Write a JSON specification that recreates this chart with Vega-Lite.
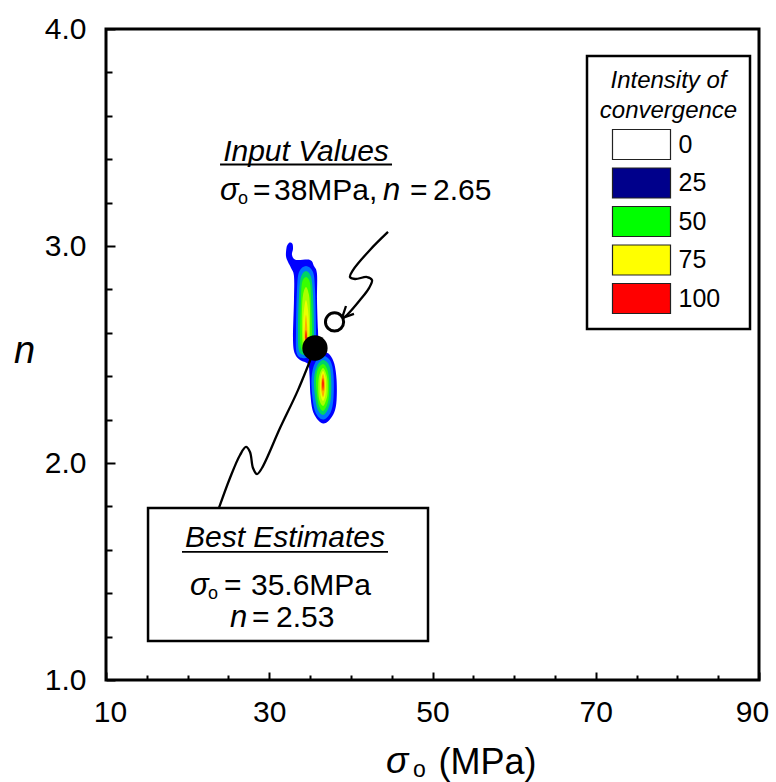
{
  "$schema": "https://vega.github.io/schema/vega-lite/v6.json",
  "width": 653,
  "height": 651,
  "autosize": {"type": "none"},
  "padding": {"left": 106, "top": 29, "right": 17, "bottom": 102},
  "background": "white",
  "config": {
    "view": {"stroke": "black", "strokeWidth": 3},
    "font": "Liberation Sans",
    "text": {"font": "Liberation Sans", "color": "black"}
  },
  "datasets": {
    "contour": [
      {"g":"o","lv":30,"i":1,"x":32.30,"y":3.009},{"g":"o","lv":30,"i":2,"x":32.54,"y":3.016},{"g":"o","lv":30,"i":3,"x":32.85,"y":3.009},{"g":"o","lv":30,"i":4,"x":32.91,"y":2.986},{"g":"o","lv":30,"i":5,"x":32.79,"y":2.959},{"g":"o","lv":30,"i":6,"x":33.28,"y":2.936},{"g":"o","lv":30,"i":7,"x":34.99,"y":2.936},{"g":"o","lv":30,"i":8,"x":35.48,"y":2.908},{"g":"o","lv":30,"i":9,"x":35.85,"y":2.871},{"g":"o","lv":30,"i":10,"x":35.85,"y":2.751},{"g":"o","lv":30,"i":11,"x":35.97,"y":2.613},{"g":"o","lv":30,"i":12,"x":36.10,"y":2.544},{"g":"o","lv":30,"i":13,"x":36.71,"y":2.516},{"g":"o","lv":30,"i":14,"x":37.44,"y":2.498},{"g":"o","lv":30,"i":15,"x":37.98,"y":2.456},{"g":"o","lv":30,"i":16,"x":38.25,"y":2.383},{"g":"o","lv":30,"i":17,"x":38.25,"y":2.290},{"g":"o","lv":30,"i":18,"x":37.98,"y":2.235},{"g":"o","lv":30,"i":19,"x":37.32,"y":2.196},{"g":"o","lv":30,"i":20,"x":36.59,"y":2.182},{"g":"o","lv":30,"i":21,"x":35.85,"y":2.203},{"g":"o","lv":30,"i":22,"x":35.30,"y":2.244},{"g":"o","lv":30,"i":23,"x":35.05,"y":2.313},{"g":"o","lv":30,"i":24,"x":34.93,"y":2.406},{"g":"o","lv":30,"i":25,"x":34.75,"y":2.456},{"g":"o","lv":30,"i":26,"x":33.77,"y":2.475},{"g":"o","lv":30,"i":27,"x":33.16,"y":2.502},{"g":"o","lv":30,"i":28,"x":32.91,"y":2.567},{"g":"o","lv":30,"i":29,"x":33.03,"y":2.751},{"g":"o","lv":30,"i":30,"x":33.03,"y":2.862},{"g":"o","lv":30,"i":31,"x":32.67,"y":2.899},{"g":"o","lv":30,"i":32,"x":32.30,"y":2.926},{"g":"o","lv":30,"i":33,"x":32.05,"y":2.954},{"g":"o","lv":30,"i":34,"x":32.11,"y":2.991},
      {"g":"u38","lv":38,"i":1,"x":34.50,"y":2.908},{"g":"u38","lv":38,"i":2,"x":35.36,"y":2.880},{"g":"u38","lv":38,"i":3,"x":35.61,"y":2.797},{"g":"u38","lv":38,"i":4,"x":35.73,"y":2.613},{"g":"u38","lv":38,"i":5,"x":35.61,"y":2.512},{"g":"u38","lv":38,"i":6,"x":34.50,"y":2.484},{"g":"u38","lv":38,"i":7,"x":33.40,"y":2.502},{"g":"u38","lv":38,"i":8,"x":33.28,"y":2.613},{"g":"u38","lv":38,"i":9,"x":33.40,"y":2.797},{"g":"u38","lv":38,"i":10,"x":33.65,"y":2.880},
      {"g":"u46","lv":46,"i":1,"x":34.50,"y":2.885},{"g":"u46","lv":46,"i":2,"x":35.12,"y":2.857},{"g":"u46","lv":46,"i":3,"x":35.36,"y":2.774},{"g":"u46","lv":46,"i":4,"x":35.48,"y":2.613},{"g":"u46","lv":46,"i":5,"x":35.36,"y":2.521},{"g":"u46","lv":46,"i":6,"x":34.50,"y":2.498},{"g":"u46","lv":46,"i":7,"x":33.65,"y":2.516},{"g":"u46","lv":46,"i":8,"x":33.52,"y":2.613},{"g":"u46","lv":46,"i":9,"x":33.65,"y":2.774},{"g":"u46","lv":46,"i":10,"x":33.89,"y":2.857},
      {"g":"u54","lv":54,"i":1,"x":34.50,"y":2.857},{"g":"u54","lv":54,"i":2,"x":34.99,"y":2.830},{"g":"u54","lv":54,"i":3,"x":35.12,"y":2.751},{"g":"u54","lv":54,"i":4,"x":35.24,"y":2.613},{"g":"u54","lv":54,"i":5,"x":35.12,"y":2.535},{"g":"u54","lv":54,"i":6,"x":34.50,"y":2.512},{"g":"u54","lv":54,"i":7,"x":33.89,"y":2.530},{"g":"u54","lv":54,"i":8,"x":33.77,"y":2.613},{"g":"u54","lv":54,"i":9,"x":33.89,"y":2.751},{"g":"u54","lv":54,"i":10,"x":34.01,"y":2.830},
      {"g":"u62","lv":62,"i":1,"x":34.50,"y":2.811},{"g":"u62","lv":62,"i":2,"x":34.87,"y":2.774},{"g":"u62","lv":62,"i":3,"x":34.99,"y":2.705},{"g":"u62","lv":62,"i":4,"x":34.99,"y":2.604},{"g":"u62","lv":62,"i":5,"x":34.87,"y":2.544},{"g":"u62","lv":62,"i":6,"x":34.50,"y":2.525},{"g":"u62","lv":62,"i":7,"x":34.14,"y":2.539},{"g":"u62","lv":62,"i":8,"x":34.01,"y":2.604},{"g":"u62","lv":62,"i":9,"x":34.01,"y":2.705},{"g":"u62","lv":62,"i":10,"x":34.14,"y":2.774},
      {"g":"u72","lv":72,"i":1,"x":34.50,"y":2.751},{"g":"u72","lv":72,"i":2,"x":34.75,"y":2.705},{"g":"u72","lv":72,"i":3,"x":34.87,"y":2.636},{"g":"u72","lv":72,"i":4,"x":34.75,"y":2.558},{"g":"u72","lv":72,"i":5,"x":34.50,"y":2.539},{"g":"u72","lv":72,"i":6,"x":34.26,"y":2.558},{"g":"u72","lv":72,"i":7,"x":34.14,"y":2.636},{"g":"u72","lv":72,"i":8,"x":34.26,"y":2.705},
      {"g":"u84","lv":84,"i":1,"x":34.50,"y":2.682},{"g":"u84","lv":84,"i":2,"x":34.63,"y":2.636},{"g":"u84","lv":84,"i":3,"x":34.69,"y":2.576},{"g":"u84","lv":84,"i":4,"x":34.50,"y":2.553},{"g":"u84","lv":84,"i":5,"x":34.32,"y":2.576},{"g":"u84","lv":84,"i":6,"x":34.38,"y":2.636},
      {"g":"u96","lv":96,"i":1,"x":34.50,"y":2.613},{"g":"u96","lv":96,"i":2,"x":34.63,"y":2.581},{"g":"u96","lv":96,"i":3,"x":34.50,"y":2.558},{"g":"u96","lv":96,"i":4,"x":34.38,"y":2.581},
      {"g":"l38","lv":38,"i":1,"x":36.59,"y":2.493},{"g":"l38","lv":38,"i":2,"x":37.50,"y":2.470},{"g":"l38","lv":38,"i":3,"x":37.87,"y":2.406},{"g":"l38","lv":38,"i":4,"x":37.87,"y":2.300},{"g":"l38","lv":38,"i":5,"x":37.50,"y":2.232},{"g":"l38","lv":38,"i":6,"x":36.59,"y":2.200},{"g":"l38","lv":38,"i":7,"x":35.70,"y":2.230},{"g":"l38","lv":38,"i":8,"x":35.30,"y":2.300},{"g":"l38","lv":38,"i":9,"x":35.18,"y":2.392},{"g":"l38","lv":38,"i":10,"x":35.61,"y":2.461},
      {"g":"l46","lv":46,"i":1,"x":36.59,"y":2.475},{"g":"l46","lv":46,"i":2,"x":37.32,"y":2.452},{"g":"l46","lv":46,"i":3,"x":37.57,"y":2.396},{"g":"l46","lv":46,"i":4,"x":37.57,"y":2.304},{"g":"l46","lv":46,"i":5,"x":37.20,"y":2.249},{"g":"l46","lv":46,"i":6,"x":36.59,"y":2.221},{"g":"l46","lv":46,"i":7,"x":35.97,"y":2.244},{"g":"l46","lv":46,"i":8,"x":35.61,"y":2.304},{"g":"l46","lv":46,"i":9,"x":35.48,"y":2.387},{"g":"l46","lv":46,"i":10,"x":35.85,"y":2.447},
      {"g":"l54","lv":54,"i":1,"x":36.59,"y":2.456},{"g":"l54","lv":54,"i":2,"x":37.08,"y":2.433},{"g":"l54","lv":54,"i":3,"x":37.32,"y":2.387},{"g":"l54","lv":54,"i":4,"x":37.32,"y":2.313},{"g":"l54","lv":54,"i":5,"x":37.08,"y":2.267},{"g":"l54","lv":54,"i":6,"x":36.59,"y":2.240},{"g":"l54","lv":54,"i":7,"x":36.10,"y":2.263},{"g":"l54","lv":54,"i":8,"x":35.85,"y":2.313},{"g":"l54","lv":54,"i":9,"x":35.73,"y":2.383},{"g":"l54","lv":54,"i":10,"x":35.97,"y":2.433},
      {"g":"l62","lv":62,"i":1,"x":36.59,"y":2.438},{"g":"l62","lv":62,"i":2,"x":36.95,"y":2.415},{"g":"l62","lv":62,"i":3,"x":37.14,"y":2.378},{"g":"l62","lv":62,"i":4,"x":37.14,"y":2.318},{"g":"l62","lv":62,"i":5,"x":36.89,"y":2.281},{"g":"l62","lv":62,"i":6,"x":36.59,"y":2.263},{"g":"l62","lv":62,"i":7,"x":36.22,"y":2.281},{"g":"l62","lv":62,"i":8,"x":36.03,"y":2.318},{"g":"l62","lv":62,"i":9,"x":36.03,"y":2.378},{"g":"l62","lv":62,"i":10,"x":36.22,"y":2.415},
      {"g":"l72","lv":72,"i":1,"x":36.59,"y":2.424},{"g":"l72","lv":72,"i":2,"x":36.89,"y":2.396},{"g":"l72","lv":72,"i":3,"x":36.95,"y":2.359},{"g":"l72","lv":72,"i":4,"x":36.89,"y":2.313},{"g":"l72","lv":72,"i":5,"x":36.59,"y":2.286},{"g":"l72","lv":72,"i":6,"x":36.28,"y":2.313},{"g":"l72","lv":72,"i":7,"x":36.22,"y":2.359},{"g":"l72","lv":72,"i":8,"x":36.28,"y":2.396},
      {"g":"l84","lv":84,"i":1,"x":36.59,"y":2.410},{"g":"l84","lv":84,"i":2,"x":36.77,"y":2.383},{"g":"l84","lv":84,"i":3,"x":36.83,"y":2.350},{"g":"l84","lv":84,"i":4,"x":36.71,"y":2.318},{"g":"l84","lv":84,"i":5,"x":36.59,"y":2.304},{"g":"l84","lv":84,"i":6,"x":36.46,"y":2.318},{"g":"l84","lv":84,"i":7,"x":36.34,"y":2.350},{"g":"l84","lv":84,"i":8,"x":36.40,"y":2.383},
      {"g":"l96","lv":96,"i":1,"x":36.59,"y":2.392},{"g":"l96","lv":96,"i":2,"x":36.71,"y":2.369},{"g":"l96","lv":96,"i":3,"x":36.65,"y":2.341},{"g":"l96","lv":96,"i":4,"x":36.59,"y":2.332},{"g":"l96","lv":96,"i":5,"x":36.52,"y":2.341},{"g":"l96","lv":96,"i":6,"x":36.46,"y":2.369}
    ],
    "box": [{"x": 15.15, "x2": 49.45, "y": 1.793, "y2": 1.18}],
    "leaders": [
      {"g":"best","i":1,"x":23.84,"y":1.793},{"g":"best","i":2,"x":25.19,"y":1.931},{"g":"best","i":3,"x":26.42,"y":2.037},{"g":"best","i":4,"x":27.15,"y":2.074},{"g":"best","i":5,"x":27.64,"y":2.051},{"g":"best","i":6,"x":28.01,"y":1.977},{"g":"best","i":7,"x":28.50,"y":1.949},{"g":"best","i":8,"x":29.11,"y":1.977},{"g":"best","i":9,"x":31.32,"y":2.161},{"g":"best","i":10,"x":33.52,"y":2.336},{"g":"best","i":11,"x":35.60,"y":2.53},
      {"g":"input","i":1,"x":44.55,"y":3.065},{"g":"input","i":2,"x":42.34,"y":2.982},{"g":"input","i":3,"x":40.26,"y":2.889},{"g":"input","i":4,"x":39.89,"y":2.857},{"g":"input","i":5,"x":40.51,"y":2.848},{"g":"input","i":6,"x":41.98,"y":2.857},{"g":"input","i":7,"x":42.59,"y":2.843},{"g":"input","i":8,"x":42.22,"y":2.806},{"g":"input","i":9,"x":41.12,"y":2.751},{"g":"input","i":10,"x":39.52,"y":2.682},{"g":"input","i":11,"x":38.91,"y":2.664}
    ],
    "arrow": [
      {"i":1,"x":39.40,"y":2.7235},{"i":2,"x":38.91,"y":2.668},{"i":3,"x":40.38,"y":2.687}
    ],
    "under": [
      {"x": 23.97, "x2": 45.04, "y": 3.3756},
      {"x": 19.31, "x2": 44.55, "y": 1.590}
    ],
    "inputPt": [{"x": 38, "y": 2.65}],
    "bestPt": [{"x": 35.6, "y": 2.53}],
    "tHead": [
      {"t": "Input Values", "x": 34.50, "y": 3.392},
      {"t": "Best Estimates", "x": 31.93, "y": 1.613}
    ],
    "tSym": [
      {"t": "σ", "x": 23.97, "y": 3.212},
      {"t": "n", "x": 43.94, "y": 3.212},
      {"t": "σ", "x": 20.29, "y": 1.392},
      {"t": "n", "x": 25.19, "y": 1.244}
    ],
    "tSub": [
      {"t": "o", "x": 26.17, "y": 3.194},
      {"t": "o", "x": 22.50, "y": 1.373}
    ],
    "tEq": [
      {"t": "=", "x": 28.01, "y": 3.212},
      {"t": "=", "x": 47.24, "y": 3.212},
      {"t": "=", "x": 24.46, "y": 1.392},
      {"t": "=", "x": 27.89, "y": 1.244}
    ],
    "tNum": [
      {"t": "38MPa,", "x": 30.58, "y": 3.212},
      {"t": "2.65", "x": 50.06, "y": 3.212},
      {"t": "35.6MPa", "x": 27.76, "y": 1.392},
      {"t": "2.53", "x": 30.83, "y": 1.244}
    ],
    "xtSym": [{"t": "σ", "x": 44.30, "y": 0.571}],
    "xtSub": [{"t": "o", "x": 47.61, "y": 0.553}]
  },
  "encoding": {
    "x": {
      "field": "x", "type": "quantitative",
      "scale": {"domain": [10, 90], "nice": false, "zero": false},
      "axis": {
        "values": [10,15,20,25,30,35,40,45,50,55,60,65,70,75,80,85,90],
        "labelExpr": "datum.value % 20 === 10 ? format(datum.value, 'd') : ''",
        "labelOverlap": false, "labelFlush": false,
        "labelOffset": {"condition": [{"test": "datum.value === 10", "value": 4}, {"test": "datum.value === 90", "value": -7}], "value": 0},
        "domain": false, "grid": false,
        "tickColor": "black", "tickWidth": 2,
        "tickSize": {"condition": {"test": "datum.value % 20 === 10", "value": -8}, "value": -5},
        "labelFont": "Liberation Sans", "labelFontSize": 30, "labelColor": "black", "labelPadding": 25,
        "title": "(MPa)", "titleFont": "Liberation Sans", "titleFontSize": 36, "titleFontWeight": "normal", "titleColor": "black",
        "titleX": 332, "titleY": 93, "titleAlign": "left", "titleBaseline": "alphabetic"
      }
    },
    "y": {
      "field": "y", "type": "quantitative",
      "scale": {"domain": [1, 4], "nice": false, "zero": false},
      "axis": {
        "values": [1,1.2,1.4,1.6,1.8,2,2.2,2.4,2.6,2.8,3,3.2,3.4,3.6,3.8,4],
        "labelExpr": "abs(datum.value - round(datum.value)) < 0.01 ? format(datum.value, '.1f') : ''",
        "labelOverlap": false, "labelFlush": false,
        "domain": false, "grid": false,
        "tickColor": "black", "tickWidth": 2,
        "tickSize": {"condition": {"test": "abs(datum.value - round(datum.value)) < 0.01", "value": -9}, "value": -6},
        "labelFont": "Liberation Sans", "labelFontSize": 30, "labelColor": "black", "labelPadding": 29,
        "title": "n", "titleFont": "Liberation Sans", "titleFontStyle": "italic", "titleFontSize": 38, "titleFontWeight": "normal", "titleColor": "black",
        "titleAngle": 0, "titleX": -82, "titleY": 333, "titleAlign": "center", "titleBaseline": "alphabetic"
      }
    }
  },
  "layer": [
    {
      "data": {"name": "contour"},
      "encoding": {
        "fill": {
          "field": "lv", "type": "quantitative",
          "scale": {
            "domain": [0, 25, 30, 40, 50, 62, 75, 87, 100],
            "range": ["#ffffff", "#00008b", "#0000ff", "#0090ff", "#00ff00", "#a8ff00", "#ffff00", "#ff9000", "#ff0000"],
            "interpolate": "rgb"
          },
          "legend": {
            "type": "symbol",
            "values": [0, 25, 50, 75, 100],
            "title": ["Intensity of", "convergence"],
            "titleFont": "Liberation Sans", "titleFontStyle": "italic", "titleFontWeight": "normal", "titleFontSize": 24, "titleColor": "black",
            "titleAnchor": "middle", "titleAlign": "center", "titleLineHeight": 30, "titlePadding": 6,
            "labelFont": "Liberation Sans", "labelFontSize": 25, "labelColor": "black", "labelOffset": 35,
            "labelExpr": "datum.label + '\u00a0\u00a0\u00a0'",
            "symbolType": "M-1,-1L2.867,-1L2.867,1L-1,1Z",
            "symbolSize": 900,
            "symbolOffset": -6,
            "symbolStrokeColor": "#222222", "symbolStrokeWidth": 1.2, "symbolOpacity": 1,
            "rowPadding": 2.5,
            "orient": "none", "legendX": 481, "legendY": 27,
            "padding": 12.5,
            "strokeColor": "black", "fillColor": "white",
            "direction": "vertical",
            "encode": {"legend": {"update": {"strokeWidth": {"value": 2.5}}}}
          }
        },
        "detail": {"field": "g", "type": "nominal"},
        "order": {"field": "i", "type": "quantitative"}
      },
      "layer": [
        {"transform": [{"filter": "datum.lv === 30"}], "mark": {"type": "line", "interpolate": "cardinal-closed", "stroke": null, "opacity": 1}},
        {"transform": [{"filter": "datum.lv === 38"}], "mark": {"type": "line", "interpolate": "cardinal-closed", "stroke": null, "opacity": 1}},
        {"transform": [{"filter": "datum.lv === 46"}], "mark": {"type": "line", "interpolate": "cardinal-closed", "stroke": null, "opacity": 1}},
        {"transform": [{"filter": "datum.lv === 54"}], "mark": {"type": "line", "interpolate": "cardinal-closed", "stroke": null, "opacity": 1}},
        {"transform": [{"filter": "datum.lv === 62"}], "mark": {"type": "line", "interpolate": "cardinal-closed", "stroke": null, "opacity": 1}},
        {"transform": [{"filter": "datum.lv === 72"}], "mark": {"type": "line", "interpolate": "cardinal-closed", "stroke": null, "opacity": 1}},
        {"transform": [{"filter": "datum.lv === 84"}], "mark": {"type": "line", "interpolate": "cardinal-closed", "stroke": null, "opacity": 1}},
        {"transform": [{"filter": "datum.lv === 96"}], "mark": {"type": "line", "interpolate": "cardinal-closed", "stroke": null, "opacity": 1}}
      ]
    },
    {
      "data": {"name": "box"},
      "mark": {"type": "rect", "fill": "white", "stroke": "black", "strokeWidth": 2.5},
      "encoding": {"x2": {"field": "x2"}, "y2": {"field": "y2"}}
    },
    {
      "data": {"name": "leaders"},
      "mark": {"type": "line", "interpolate": "catmull-rom", "color": "black", "strokeWidth": 2.3},
      "encoding": {"detail": {"field": "g", "type": "nominal"}, "order": {"field": "i", "type": "quantitative"}}
    },
    {
      "data": {"name": "arrow"},
      "mark": {"type": "line", "color": "black", "strokeWidth": 2.3},
      "encoding": {"order": {"field": "i", "type": "quantitative"}}
    },
    {
      "data": {"name": "under"},
      "mark": {"type": "rule", "color": "black", "strokeWidth": 1.8},
      "encoding": {"x2": {"field": "x2"}}
    },
    {
      "data": {"name": "inputPt"},
      "mark": {"type": "point", "shape": "circle", "filled": false, "stroke": "black", "fill": "white", "fillOpacity": 1, "strokeWidth": 3, "size": 330, "opacity": 1}
    },
    {
      "data": {"name": "bestPt"},
      "mark": {"type": "point", "shape": "circle", "filled": true, "color": "black", "size": 640, "opacity": 1}
    },
    {
      "data": {"name": "tHead"},
      "mark": {"type": "text", "font": "Liberation Sans", "fontStyle": "italic", "fontSize": 30, "align": "center", "baseline": "alphabetic", "color": "black"},
      "encoding": {"text": {"field": "t"}}
    },
    {
      "data": {"name": "tSym"},
      "mark": {"type": "text", "font": "Liberation Sans", "fontStyle": "italic", "fontSize": 31, "align": "left", "baseline": "alphabetic", "color": "black"},
      "encoding": {"text": {"field": "t"}}
    },
    {
      "data": {"name": "tSub"},
      "mark": {"type": "text", "font": "Liberation Sans", "fontSize": 18, "align": "left", "baseline": "alphabetic", "color": "black"},
      "encoding": {"text": {"field": "t"}}
    },
    {
      "data": {"name": "tEq"},
      "mark": {"type": "text", "font": "Liberation Sans", "fontSize": 30, "align": "left", "baseline": "alphabetic", "color": "black"},
      "encoding": {"text": {"field": "t"}}
    },
    {
      "data": {"name": "tNum"},
      "mark": {"type": "text", "font": "Liberation Sans", "fontSize": 30, "align": "left", "baseline": "alphabetic", "color": "black"},
      "encoding": {"text": {"field": "t"}}
    },
    {
      "data": {"name": "xtSym"},
      "mark": {"type": "text", "font": "Liberation Sans", "fontStyle": "italic", "fontSize": 37, "align": "left", "baseline": "alphabetic", "color": "black"},
      "encoding": {"text": {"field": "t"}}
    },
    {
      "data": {"name": "xtSub"},
      "mark": {"type": "text", "font": "Liberation Sans", "fontSize": 23, "align": "left", "baseline": "alphabetic", "color": "black"},
      "encoding": {"text": {"field": "t"}}
    }
  ]
}
